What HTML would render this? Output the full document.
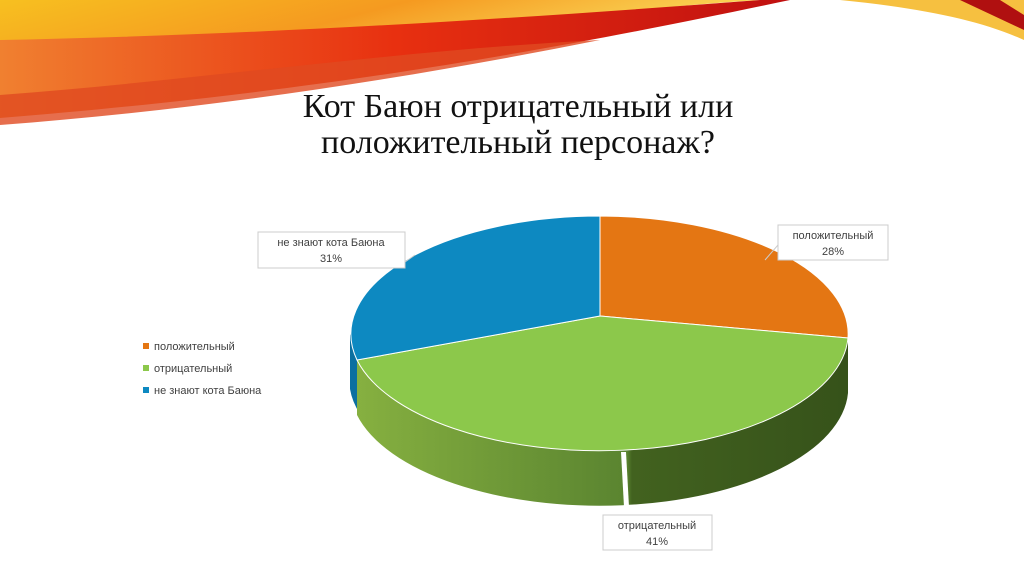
<!DOCTYPE html>
<html><head><meta charset="utf-8"><style>
body{margin:0;width:1024px;height:574px;overflow:hidden;background:#fff;font-family:"Liberation Sans","DejaVu Sans",sans-serif}
</style></head><body>
<svg width="1024" height="574" viewBox="0 0 1024 574" xmlns="http://www.w3.org/2000/svg">
<defs>
<linearGradient id="rb1" x1="0" y1="0" x2="1" y2="0.3"><stop offset="0" stop-color="#f7c020"/><stop offset="0.5" stop-color="#f59a20"/><stop offset="1" stop-color="#fbe060"/></linearGradient>
<linearGradient id="rb2" x1="0" y1="0" x2="1" y2="0"><stop offset="0" stop-color="#f08030"/><stop offset="0.5" stop-color="#e83010"/><stop offset="1" stop-color="#c01010"/></linearGradient>
<linearGradient id="gs" x1="0" y1="0" x2="1" y2="0"><stop offset="0" stop-color="#86b040"/><stop offset="0.55" stop-color="#5a8430"/><stop offset="0.56" stop-color="#42621f"/><stop offset="1" stop-color="#36521a"/></linearGradient>
</defs>
<path d="M0,0 L760,0 C600,10 400,40 0,60 Z" fill="url(#rb1)"/>
<path d="M0,40 C250,35 500,20 760,0 L790,0 C600,40 350,90 0,118 Z" fill="url(#rb2)"/>
<path d="M0,95 C200,80 400,50 600,40 C400,80 200,110 0,125 Z" fill="#e04a20" opacity="0.8"/>
<path d="M840,0 L1024,0 L1024,40 C980,20 920,8 840,0 Z" fill="#f6c040"/>
<path d="M960,0 L1000,0 L1024,15 L1024,30 Z" fill="#b01010"/>
<text x="518" y="117" font-family="Liberation Serif,serif" font-size="34" text-anchor="middle" fill="#111">Кот Баюн отрицательный или</text>
<text x="518" y="153" font-family="Liberation Serif,serif" font-size="34" text-anchor="middle" fill="#111">положительный персонаж?</text>
<path d="M350,334 L350,389 A249,118 0 0 0 360,414 L360,359 Z" fill="#0b6fa0"/>
<path d="M357,360 A249,118 0 0 0 848,338 L848,393 A249,118 0 0 1 357,415 Z" fill="url(#gs)"/>
<path d="M621,452 L626,452 L629,507 L624,507 Z" fill="#fff"/>
<path d="M600,316 L600,216 A249,118 0 0 1 848,338 Z" fill="#e47613" stroke="#fff" stroke-width="1"/>
<path d="M600,316 L848,338 A249,118 0 0 1 357,360 Z" fill="#8cc84b" stroke="#fff" stroke-width="1"/>
<path d="M600,316 L357,360 A249,118 0 0 1 600,216 Z" fill="#0d89c1" stroke="#fff" stroke-width="1"/>
<g font-size="11" fill="#404040">
<rect x="258" y="232" width="147" height="36" fill="#fff" stroke="#ccc"/>
<text x="331" y="246" text-anchor="middle">не знают кота Баюна</text><text x="331" y="262" text-anchor="middle">31%</text>
<rect x="778" y="225" width="110" height="35" fill="#fff" stroke="#ccc"/>
<text x="833" y="239" text-anchor="middle">положительный</text><text x="833" y="255" text-anchor="middle">28%</text>
<rect x="603" y="515" width="109" height="35" fill="#fff" stroke="#ccc"/>
<text x="657" y="529" text-anchor="middle">отрицательный</text><text x="657" y="545" text-anchor="middle">41%</text>
<rect x="143" y="343" width="6" height="6" fill="#e47613"/><text x="154" y="350">положительный</text>
<rect x="143" y="365" width="6" height="6" fill="#8cc84b"/><text x="154" y="372">отрицательный</text>
<rect x="143" y="387" width="6" height="6" fill="#0d89c1"/><text x="154" y="394">не знают кота Баюна</text>
</g>
<path d="M405,262 L415,255" stroke="#ccc"/>
<path d="M778,245 L765,260" stroke="#ccc"/>
</svg>
</body></html>
